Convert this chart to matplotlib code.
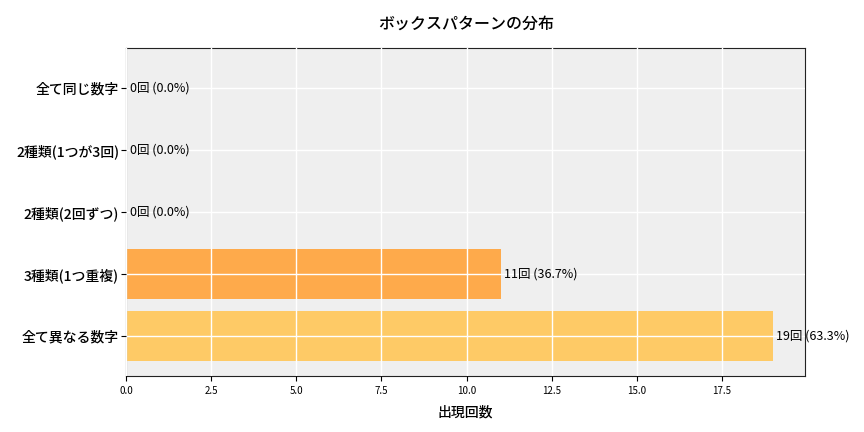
import matplotlib
matplotlib.use("Agg")
from matplotlib import pyplot as plt

plt.rcParams['font.family'] = ['Noto Sans CJK JP', 'DejaVu Sans']

# data
patterns = ['全て異なる数字', '3種類(1つ重複)', '2種類(2回ずつ)', '2種類(1つが3回)', '全て同じ数字']
counts = [19, 11, 0, 0, 0]
colors = ['#FECA66', '#FEAA4B', '#FF8C3A', '#FF7030', '#FF5028']

total = sum(counts)

fig = plt.figure(figsize=(8.64, 4.32), dpi=100)
ax = fig.add_subplot(1, 1, 1)
ax.set_facecolor('#EFEFEF')
bars = ax.barh(patterns, counts, height=0.8, color=colors)

for i, c in enumerate(counts):
    ax.text(c + 0.1, i, f'{c}回 ({c / total * 100:.1f}%)', va='center', ha='left', fontsize=9)

ax.set_xlim(0, max(counts) * 1.05)
ax.grid(True, color='white', linewidth=1)
ax.set_axisbelow(False)
for s in ax.spines.values():
    s.set_color('#222222')
ax.tick_params(axis='x', labelsize=7)
ax.tick_params(axis='y', labelsize=10, pad=1.5)
for lab in ax.get_yticklabels():
    lab.set_fontweight('medium')
ax.set_xlabel('出現回数', fontsize=10, fontweight='medium', labelpad=7)
ax.set_title('ボックスパターンの分布', fontsize=11.5, fontweight='medium', pad=14)

plt.subplots_adjust(left=0.146, right=0.932, top=0.889, bottom=0.13)
plt.savefig('out.png', dpi=100)
